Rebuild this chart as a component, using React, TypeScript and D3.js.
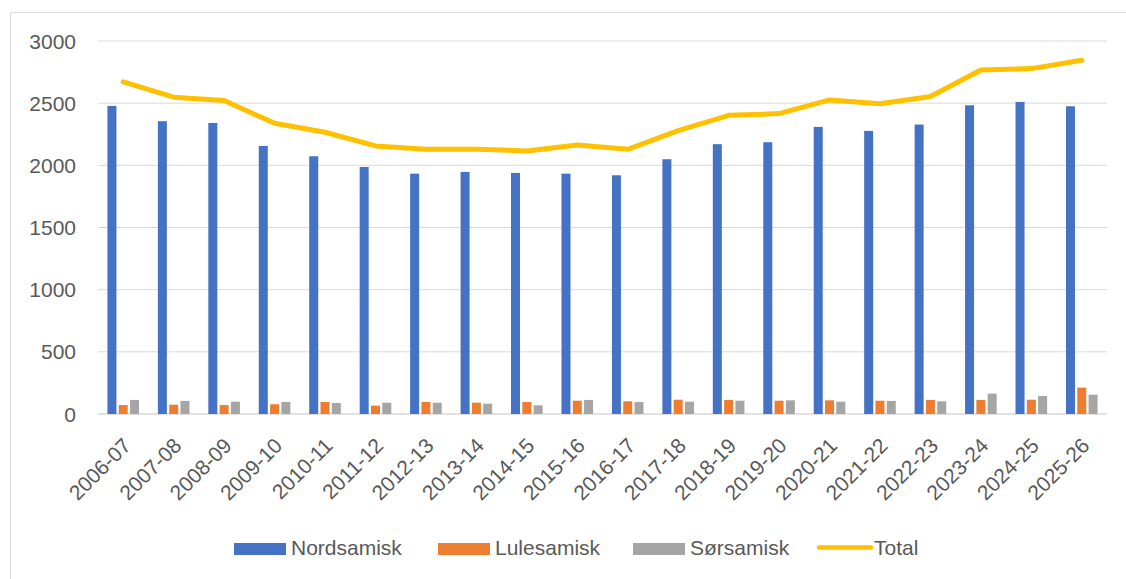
import React from "react";
import * as d3 from "d3";

const categories = ["2006-07","2007-08","2008-09","2009-10","2010-11","2011-12","2012-13","2013-14","2014-15","2015-16","2016-17","2017-18","2018-19","2019-20","2020-21","2021-22","2022-23","2023-24","2024-25","2025-26"];
const nordsamisk = [2478,2355,2341,2156,2073,1987,1933,1947,1939,1933,1920,2049,2170,2186,2309,2277,2328,2483,2510,2475];
const lulesamisk = [72,75,72,78,97,67,97,91,97,107,102,115,113,107,110,107,113,113,115,212];
const sorsamisk = [113,105,99,97,88,91,91,83,70,113,97,99,107,110,99,105,102,164,145,155];
const total = [2671,2548,2521,2338,2266,2156,2129,2129,2116,2164,2129,2279,2402,2416,2526,2496,2553,2767,2778,2845];
const yTicks = [0,500,1000,1500,2000,2500,3000];
const seriesNames = ["Nordsamisk","Lulesamisk","Sørsamisk"];
const seriesColors = ["#4472C4","#ED7D31","#A5A5A5"];
const totalName = "Total";
const totalColor = "#FFC000";

const W = 1126, H = 579;
const FONT = "'Liberation Sans', Arial, sans-serif";
const TXT = "#595959";
const GRID = "#d9d9d9";

export default function App() {
  const x = d3.scaleBand<string>().domain(categories).range([98, 1107]).padding(0);
  const y = d3.scaleLinear().domain([0, 3000]).range([414, 41]);
  const sub = d3.scaleBand<string>().domain(seriesNames).range([-15.8, 15.8]).paddingInner(0.2035).paddingOuter(0);
  const seriesData = [nordsamisk, lulesamisk, sorsamisk];
  const cx = (c: string) => (x(c) as number) + x.bandwidth() / 2;
  const line = d3.line<number>().x((_, i) => cx(categories[i])).y((v) => y(v));

  const legendItems = [
    { name: seriesNames[0], color: seriesColors[0], x0: 234, type: "rect" },
    { name: seriesNames[1], color: seriesColors[1], x0: 438, type: "rect" },
    { name: seriesNames[2], color: seriesColors[2], x0: 633, type: "rect" },
    { name: totalName, color: totalColor, x0: 817, type: "line" },
  ];

  return (
    <svg width={W} height={H} style={{ position: "absolute", left: 0, top: 0, background: "#fff" }} fontFamily={FONT}>
      <path d={`M10.5,${H} V12.5 H${W}`} fill="none" stroke={GRID} strokeWidth={1} />
      {yTicks.map((t) => (
        <g key={t}>
          <line x1={98} x2={1107} y1={y(t)} y2={y(t)} stroke={GRID} strokeWidth={t === 0 ? 1.5 : 1} />
          <text x={76} y={y(t)} dy="0.36em" textAnchor="end" fontSize={21} fill={TXT}>{t}</text>
        </g>
      ))}
      {seriesData.map((vals, si) => (
        <g key={si} fill={seriesColors[si]}>
          {vals.map((v, i) => (
            <rect key={i} x={cx(categories[i]) + (sub(seriesNames[si]) as number)} width={sub.bandwidth()} y={y(v)} height={y(0) - y(v)} />
          ))}
        </g>
      ))}
      <path d={line(total) || ""} fill="none" stroke={totalColor} strokeWidth={5} strokeLinejoin="round" strokeLinecap="round" />
      {categories.map((c) => (
        <text key={c} transform={`translate(${cx(c) + 9},447) rotate(-45)`} textAnchor="end" fontSize={21} fill={TXT}>{c}</text>
      ))}
      {legendItems.map((it) => (
        <g key={it.name}>
          {it.type === "rect" ? (
            <rect x={it.x0} y={543} width={52} height={12} fill={it.color} />
          ) : (
            <line x1={it.x0 + 2} x2={it.x0 + 54} y1={547.5} y2={547.5} stroke={it.color} strokeWidth={4.5} strokeLinecap="round" />
          )}
          <text x={it.x0 + 57} y={554.5} fontSize={21} fill={TXT}>{it.name}</text>
        </g>
      ))}
    </svg>
  );
}
